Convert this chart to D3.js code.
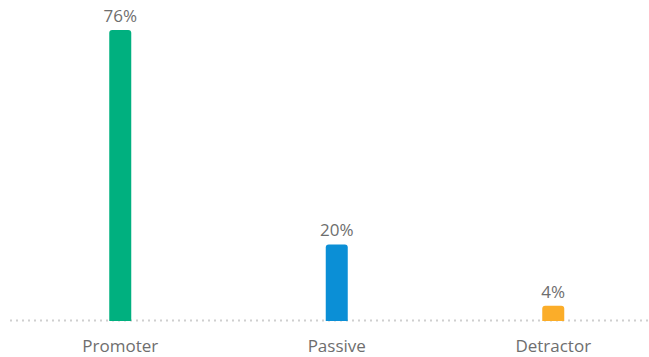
<!DOCTYPE html>
<html>
<head>
<meta charset="utf-8">
<script src="https://cdn.jsdelivr.net/npm/d3@7"></script>
<style>
  html, body { margin: 0; padding: 0; background: #fff; }
  svg { display: block; }
</style>
</head>
<body>
<svg id="chart" width="649" height="357"></svg>
<script>
const categories = ["Promoter", "Passive", "Detractor"];
const values = [76, 20, 4];
const colors = ["#00b07f", "#0b8fd6", "#fbad29"];

const svg = d3.select("#chart");
const W = 649, H = 357;
const baseY = 321;
const barW = 22;

const x = d3.scaleBand().domain(categories).range([12, 661.5]).padding(0);
const y = d3.scaleLinear().domain([0, 76]).range([baseY, 30]);

// dotted baseline
svg.append("line")
  .attr("x1", 10).attr("x2", W)
  .attr("y1", baseY - 0.5).attr("y2", baseY - 0.5)
  .attr("stroke", "#cfcfcf")
  .attr("stroke-width", 2)
  .attr("stroke-dasharray", "2,4");

// bars with rounded top corners
function barPath(x0, y0, w, h, r) {
  r = Math.min(r, h, w / 2);
  return `M${x0},${y0 + h}V${y0 + r}Q${x0},${y0} ${x0 + r},${y0}H${x0 + w - r}Q${x0 + w},${y0} ${x0 + w},${y0 + r}V${y0 + h}Z`;
}

const data = categories.map((c, i) => ({ c, v: values[i], color: colors[i] }));

svg.selectAll("path.bar").data(data).join("path")
  .attr("class", "bar")
  .attr("fill", d => d.color)
  .attr("d", d => {
    const cx = x(d.c) + x.bandwidth() / 2;
    return barPath(cx - barW / 2, y(d.v), barW, baseY - y(d.v), 3);
  });

// value labels
svg.selectAll("text.val").data(data).join("text")
  .attr("class", "val")
  .attr("x", d => x(d.c) + x.bandwidth() / 2)
  .attr("y", d => y(d.v) - 8)
  .attr("text-anchor", "middle")
  .attr("font-family", "'Open Sans', sans-serif")
  .attr("font-size", 17)
  .attr("fill", "#6e6e6e")
  .text(d => d.v + "%");

// category axis labels
const axis = d3.axisBottom(x).tickSize(0).tickPadding(0);
const g = svg.append("g").attr("transform", `translate(0,${baseY})`).call(axis);
g.select(".domain").remove();
g.selectAll("text")
  .attr("y", 31)
  .attr("dy", 0)
  .attr("font-family", "'Open Sans', sans-serif")
  .attr("font-size", 17)
  .attr("fill", "#6e6e6e");
</script>
</body>
</html>
